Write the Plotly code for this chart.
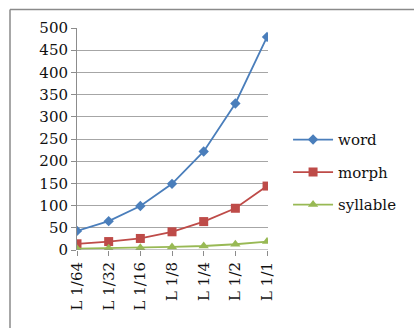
import plotly.graph_objects as go

# Category labels along the x axis
levels = ["L 1/64", "L 1/32", "L 1/16", "L 1/8", "L 1/4", "L 1/2", "L 1/1"]

# Series values
word = [43, 65, 99, 149, 222, 330, 480]
morph = [14, 19, 26, 41, 64, 94, 144]
syllable = [3, 4, 5, 7, 9, 13, 19]

y_ticks = [0, 50, 100, 150, 200, 250, 300, 350, 400, 450, 500]

FONT = "DejaVu Serif"
W, H = 414, 328
L, R, T, B = 77, 146, 28, 78

fig = go.Figure()
series = [
    ("word", word, "#4a7ebb", "diamond", 8),
    ("morph", morph, "#be4b48", "square", 9),
    ("syllable", syllable, "#98b954", "triangle-up", 9),
]
for name, vals, color, sym, size in series:
    fig.add_trace(go.Scatter(
        x=list(range(len(levels))), y=vals, name=name, legendgroup=name,
        mode="lines+markers",
        line=dict(color=color, width=1.8),
        marker=dict(symbol=sym, size=size, color=color),
    ))

fig.update_layout(
    width=W, height=H,
    margin=dict(l=L, r=R, t=T, b=B, autoexpand=False),
    paper_bgcolor="white", plot_bgcolor="white",
    font=dict(family=FONT, size=15, color="#111"),
    showlegend=True,
    legend=dict(
        x=1.105, xanchor="left", y=0.35, yanchor="middle",
        font=dict(family=FONT, size=15, color="#111"),
        tracegroupgap=10, itemwidth=40,
        bgcolor="rgba(0,0,0,0)",
    ),
    xaxis=dict(
        range=[0, 6.03], tickmode="array",
        tickvals=list(range(len(levels))), ticktext=levels,
        tickangle=-90, showgrid=False, zeroline=False,
        showline=False, ticks="outside", ticklen=5, tickcolor="#8c8c8c",
        tickfont=dict(family=FONT, size=15),
    ),
    yaxis=dict(
        range=[0, 500], tickmode="array", tickvals=y_ticks,
        ticksuffix="\u00a0\u2009",
        showgrid=True, gridcolor="#a6a6a6", gridwidth=1,
        zeroline=False, showline=True, linecolor="#8c8c8c", linewidth=1,
        ticks="outside", ticklen=5, tickcolor="#8c8c8c",
        tickfont=dict(family=FONT, size=15),
    ),
)

# Baseline at zero
fig.add_shape(type="line", xref="paper", yref="y", x0=0, x1=1, y0=0, y1=0,
              line=dict(color="#8c8c8c", width=1))

# Chart frame: top and left edges
fig.add_shape(type="line", xref="paper", yref="paper",
              x0=(10 - L) / (W - L - R), x1=(W - L) / (W - L - R),
              y0=(H - B - 9.5) / (H - T - B), y1=(H - B - 9.5) / (H - T - B),
              line=dict(color="#8a8a8a", width=1.5))
fig.add_shape(type="line", xref="paper", yref="paper",
              x0=(10 - L) / (W - L - R), x1=(10 - L) / (W - L - R),
              y0=(H - B - 9.5) / (H - T - B), y1=-B / (H - T - B),
              line=dict(color="#8a8a8a", width=1.5))

fig.write_html("out.html")
